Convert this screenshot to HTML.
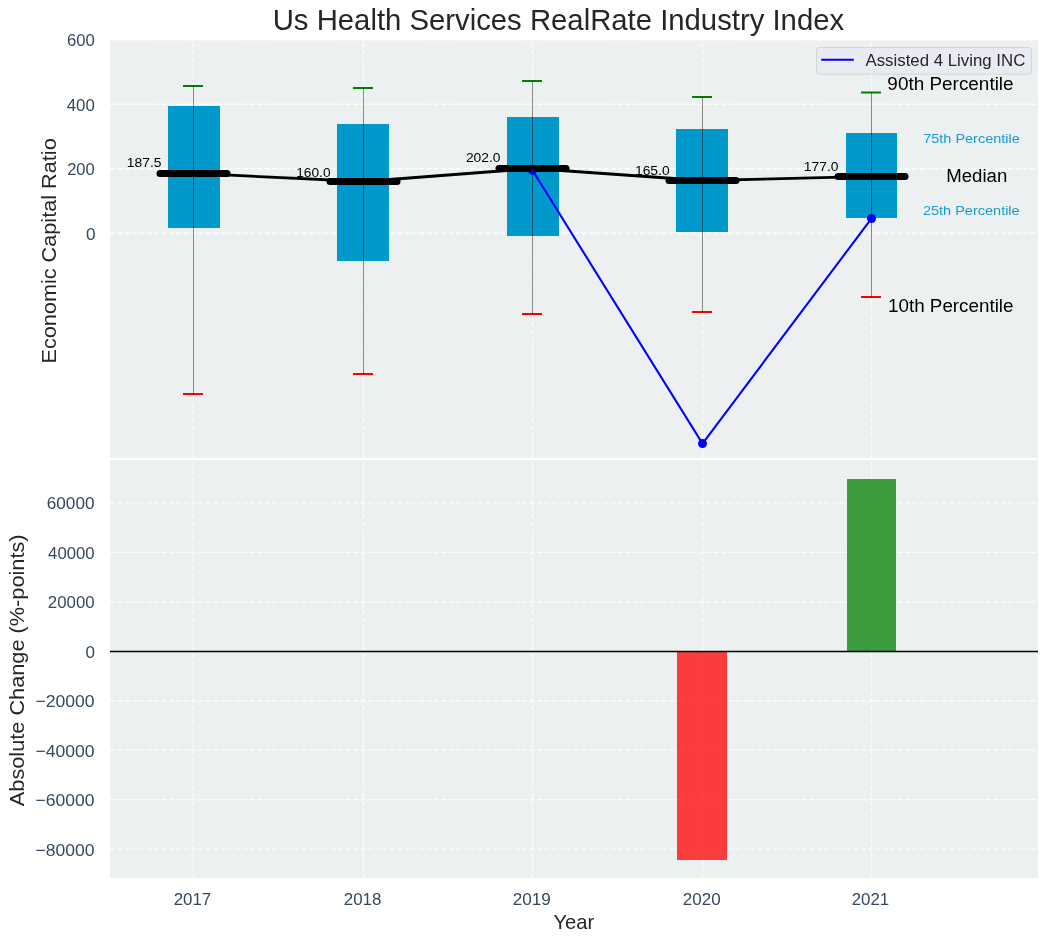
<!DOCTYPE html>
<html><head><meta charset="utf-8"><style>
html,body{margin:0;padding:0;background:#fff;width:1048px;height:942px;overflow:hidden}
svg{display:block;will-change:transform}
text{font-family:"Liberation Sans", sans-serif}
</style></head><body>
<svg width="1048" height="942" viewBox="0 0 1048 942" font-family='"Liberation Sans", sans-serif'><rect x="0" y="0" width="1048" height="942" fill="#ffffff"/>
<rect x="110.0" y="40.0" width="928.0" height="417.70" fill="#ecf0f1"/>
<rect x="110.0" y="460.3" width="928.0" height="417.60" fill="#ecf0f1"/>
<g stroke="#ffffff" stroke-width="1.3" stroke-dasharray="5.139,2.222" opacity="0.9"><line x1="110.0" y1="233.25" x2="1038.0" y2="233.25"/><line x1="110.0" y1="168.75" x2="1038.0" y2="168.75"/><line x1="110.0" y1="104.25" x2="1038.0" y2="104.25"/><line x1="110.0" y1="39.75" x2="1038.0" y2="39.75"/><line x1="193.50" y1="457.7" x2="193.50" y2="40.0" stroke-dashoffset="1.8"/><line x1="363.50" y1="457.7" x2="363.50" y2="40.0" stroke-dashoffset="1.8"/><line x1="532.50" y1="457.7" x2="532.50" y2="40.0" stroke-dashoffset="1.8"/><line x1="702.50" y1="457.7" x2="702.50" y2="40.0" stroke-dashoffset="1.8"/><line x1="871.50" y1="457.7" x2="871.50" y2="40.0" stroke-dashoffset="1.8"/><line x1="110.0" y1="502.95" x2="1038.0" y2="502.95"/><line x1="110.0" y1="552.40" x2="1038.0" y2="552.40"/><line x1="110.0" y1="601.85" x2="1038.0" y2="601.85"/><line x1="110.0" y1="651.30" x2="1038.0" y2="651.30"/><line x1="110.0" y1="700.75" x2="1038.0" y2="700.75"/><line x1="110.0" y1="750.20" x2="1038.0" y2="750.20"/><line x1="110.0" y1="799.65" x2="1038.0" y2="799.65"/><line x1="110.0" y1="849.10" x2="1038.0" y2="849.10"/><line x1="193.50" y1="877.9" x2="193.50" y2="460.3" stroke-dashoffset="1.8"/><line x1="363.50" y1="877.9" x2="363.50" y2="460.3" stroke-dashoffset="1.8"/><line x1="532.50" y1="877.9" x2="532.50" y2="460.3" stroke-dashoffset="1.8"/><line x1="702.50" y1="877.9" x2="702.50" y2="460.3" stroke-dashoffset="1.8"/><line x1="871.50" y1="877.9" x2="871.50" y2="460.3" stroke-dashoffset="1.8"/></g>
<rect x="168" y="106" width="52" height="122" fill="#0099cc"/>
<rect x="337" y="124" width="52" height="137" fill="#0099cc"/>
<rect x="507" y="117" width="52" height="119" fill="#0099cc"/>
<rect x="676" y="129" width="52" height="103" fill="#0099cc"/>
<rect x="846" y="133" width="51" height="85" fill="#0099cc"/>
<circle cx="532.50" cy="170.35" r="4.5" fill="#0000ff"/>
<circle cx="702.50" cy="443.60" r="4.5" fill="#0000ff"/>
<circle cx="871.50" cy="218.45" r="4.5" fill="#0000ff"/>
<line x1="183.0" y1="86" x2="203.0" y2="86" stroke="#008000" stroke-width="2"/>
<line x1="183.0" y1="394" x2="203.0" y2="394" stroke="#ff0000" stroke-width="2"/>
<line x1="193.5" y1="86" x2="193.5" y2="394" stroke="#000" stroke-opacity="0.45" stroke-width="1"/>
<line x1="353.0" y1="88" x2="373.0" y2="88" stroke="#008000" stroke-width="2"/>
<line x1="353.0" y1="374" x2="373.0" y2="374" stroke="#ff0000" stroke-width="2"/>
<line x1="363.5" y1="88" x2="363.5" y2="374" stroke="#000" stroke-opacity="0.45" stroke-width="1"/>
<line x1="522.0" y1="81" x2="542.0" y2="81" stroke="#008000" stroke-width="2"/>
<line x1="522.0" y1="314" x2="542.0" y2="314" stroke="#ff0000" stroke-width="2"/>
<line x1="532.5" y1="81" x2="532.5" y2="314" stroke="#000" stroke-opacity="0.45" stroke-width="1"/>
<line x1="692.0" y1="97" x2="712.0" y2="97" stroke="#008000" stroke-width="2"/>
<line x1="692.0" y1="312" x2="712.0" y2="312" stroke="#ff0000" stroke-width="2"/>
<line x1="702.5" y1="97" x2="702.5" y2="312" stroke="#000" stroke-opacity="0.45" stroke-width="1"/>
<line x1="861.0" y1="92.5" x2="881.0" y2="92.5" stroke="#008000" stroke-width="2"/>
<line x1="861.0" y1="297" x2="881.0" y2="297" stroke="#ff0000" stroke-width="2"/>
<line x1="871.5" y1="92.5" x2="871.5" y2="297" stroke="#000" stroke-opacity="0.45" stroke-width="1"/>
<polyline fill="none" stroke="#000" stroke-width="2.8" stroke-linecap="square" points="193.50,173.5 363.50,181.5 532.50,168.5 702.50,180.5 871.50,176.5"/>
<line x1="160.00" y1="173.5" x2="227.00" y2="173.5" stroke="#000" stroke-width="7" stroke-linecap="round"/>
<line x1="330.00" y1="181.5" x2="397.00" y2="181.5" stroke="#000" stroke-width="7" stroke-linecap="round"/>
<line x1="499.00" y1="168.5" x2="566.00" y2="168.5" stroke="#000" stroke-width="7" stroke-linecap="round"/>
<line x1="669.00" y1="180.5" x2="736.00" y2="180.5" stroke="#000" stroke-width="7" stroke-linecap="round"/>
<line x1="838.00" y1="176.5" x2="905.00" y2="176.5" stroke="#000" stroke-width="7" stroke-linecap="round"/>
<polyline fill="none" stroke="#0000ff" stroke-width="2.08" stroke-linecap="square" points="532.50,170.35 702.50,443.60 871.50,218.45"/>
<rect x="816.5" y="47.6" width="215.1" height="26.5" rx="3" ry="3" fill="rgba(234,234,242,0.8)" stroke="rgba(204,204,204,0.8)" stroke-width="1"/>
<line x1="821.2" y1="59.85" x2="853.8" y2="59.85" stroke="#0000ff" stroke-width="2"/>
<rect x="677" y="651.3" width="50" height="208.70" fill="rgba(255,0,0,0.75)"/>
<rect x="847" y="479" width="49" height="172.30" fill="rgba(0,128,0,0.75)"/>
<line x1="110.0" y1="651.45" x2="1038.0" y2="651.45" stroke="#000" stroke-width="1.35"/>
<text x="272.72" y="29.80" font-size="28.9" fill="#262626" textLength="571.41" lengthAdjust="spacingAndGlyphs">Us Health Services RealRate Industry Index</text>
<text x="66.96" y="45.60" font-size="17.0" fill="#34495e" textLength="27.85" lengthAdjust="spacingAndGlyphs">600</text>
<text x="66.70" y="110.60" font-size="17.0" fill="#34495e" textLength="28.11" lengthAdjust="spacingAndGlyphs">400</text>
<text x="67.17" y="174.80" font-size="17.0" fill="#34495e" textLength="27.53" lengthAdjust="spacingAndGlyphs">200</text>
<text x="86.14" y="239.65" font-size="17.0" fill="#34495e" textLength="9.59" lengthAdjust="spacingAndGlyphs">0</text>
<text x="46.74" y="508.60" font-size="17.0" fill="#34495e" textLength="47.85" lengthAdjust="spacingAndGlyphs">60000</text>
<text x="48.11" y="558.90" font-size="17.0" fill="#34495e" textLength="46.46" lengthAdjust="spacingAndGlyphs">40000</text>
<text x="47.86" y="607.90" font-size="17.0" fill="#34495e" textLength="46.71" lengthAdjust="spacingAndGlyphs">20000</text>
<text x="85.55" y="657.70" font-size="17.0" fill="#34495e" textLength="9.47" lengthAdjust="spacingAndGlyphs">0</text>
<text x="35.43" y="706.70" font-size="17.0" fill="#34495e" textLength="59.10" lengthAdjust="spacingAndGlyphs">−20000</text>
<text x="35.43" y="756.70" font-size="17.0" fill="#34495e" textLength="59.10" lengthAdjust="spacingAndGlyphs">−40000</text>
<text x="35.43" y="805.90" font-size="17.0" fill="#34495e" textLength="59.10" lengthAdjust="spacingAndGlyphs">−60000</text>
<text x="35.43" y="855.70" font-size="17.0" fill="#34495e" textLength="59.10" lengthAdjust="spacingAndGlyphs">−80000</text>
<text x="173.66" y="904.90" font-size="17.0" fill="#34495e" textLength="37.57" lengthAdjust="spacingAndGlyphs">2017</text>
<text x="343.86" y="904.90" font-size="17.0" fill="#34495e" textLength="37.46" lengthAdjust="spacingAndGlyphs">2018</text>
<text x="512.74" y="904.90" font-size="17.0" fill="#34495e" textLength="38.09" lengthAdjust="spacingAndGlyphs">2019</text>
<text x="682.85" y="904.90" font-size="17.0" fill="#34495e" textLength="37.72" lengthAdjust="spacingAndGlyphs">2020</text>
<text x="851.66" y="904.90" font-size="17.0" fill="#34495e" textLength="37.46" lengthAdjust="spacingAndGlyphs">2021</text>
<text x="553.50" y="928.90" font-size="20.4" fill="#262626" textLength="40.80" lengthAdjust="spacingAndGlyphs">Year</text>
<text x="0" y="0" font-size="20.4" fill="#262626" textLength="225.26" lengthAdjust="spacingAndGlyphs" transform="translate(56.00,363.56) rotate(-90)">Economic Capital Ratio</text>
<text x="0" y="0" font-size="20.4" fill="#262626" textLength="271.77" lengthAdjust="spacingAndGlyphs" transform="translate(23.90,806.20) rotate(-90)">Absolute Change (%-points)</text>
<text x="865.50" y="65.80" font-size="16.9" fill="#262626" textLength="159.78" lengthAdjust="spacingAndGlyphs">Assisted 4 Living INC</text>
<text x="887.39" y="89.80" font-size="18.8" fill="#000000" textLength="126.21" lengthAdjust="spacingAndGlyphs">90th Percentile</text>
<text x="888.00" y="312.00" font-size="18.8" fill="#000000" textLength="125.50" lengthAdjust="spacingAndGlyphs">10th Percentile</text>
<text x="946.21" y="181.70" font-size="18.8" fill="#000000" textLength="61.03" lengthAdjust="spacingAndGlyphs">Median</text>
<text x="923.17" y="142.80" font-size="13.1" fill="#1a9bd0" textLength="96.70" lengthAdjust="spacingAndGlyphs">75th Percentile</text>
<text x="922.97" y="215.00" font-size="13.1" fill="#1a9bd0" textLength="96.70" lengthAdjust="spacingAndGlyphs">25th Percentile</text>
<text x="126.84" y="166.90" font-size="13.1" fill="#000000" textLength="34.62" lengthAdjust="spacingAndGlyphs">187.5</text>
<text x="296.15" y="176.90" font-size="13.1" fill="#000000" textLength="34.41" lengthAdjust="spacingAndGlyphs">160.0</text>
<text x="465.91" y="161.90" font-size="13.1" fill="#000000" textLength="34.65" lengthAdjust="spacingAndGlyphs">202.0</text>
<text x="634.94" y="174.70" font-size="13.1" fill="#000000" textLength="34.72" lengthAdjust="spacingAndGlyphs">165.0</text>
<text x="803.84" y="171.00" font-size="13.1" fill="#000000" textLength="34.72" lengthAdjust="spacingAndGlyphs">177.0</text></svg>
</body></html>
